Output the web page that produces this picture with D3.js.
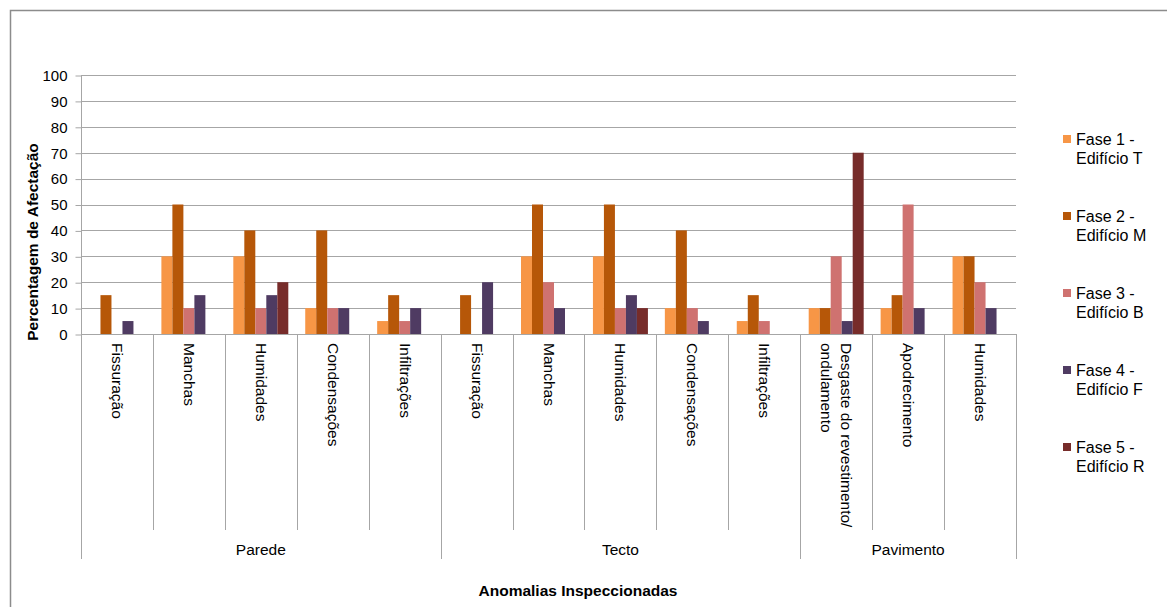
<!DOCTYPE html>
<html>
<head>
<meta charset="utf-8">
<script src="https://cdn.jsdelivr.net/npm/d3@7"></script>
<style>
  html, body { margin: 0; padding: 0; background: #fff; }
  svg { display: block; font-family: "Liberation Sans", Arial, sans-serif; }
</style>
</head>
<body>
<svg id="chart" width="1167" height="607"></svg>
<script>
// Anomalies per element and building phase (% affected)
const groupNames = ["Parede", "Tecto", "Pavimento"];
const groupSizes = [5, 5, 3];
const categoryLabels = [
  "Fissuração", "Manchas", "Humidades", "Condensações", "Infiltrações",
  "Fissuração", "Manchas", "Humidades", "Condensações", "Infiltrações",
  "Desgaste do revestimento/|ondulamento", "Apodrecimento", "Humidades"
];
const seriesNames = [
  "Fase 1 - Edifício T", "Fase 2 - Edifício M", "Fase 3 - Edifício B",
  "Fase 4 - Edifício F", "Fase 5 - Edifício R"
];
const fase1 = [0, 30, 30, 10, 5, 0, 30, 30, 10, 5, 10, 10, 30];
const fase2 = [15, 50, 40, 40, 15, 15, 50, 50, 40, 15, 10, 15, 30];
const fase3 = [0, 10, 10, 10, 5, 0, 20, 10, 10, 5, 30, 50, 20];
const fase4 = [5, 15, 15, 10, 10, 20, 10, 15, 5, 0, 5, 10, 10];
const fase5 = [0, 0, 20, 0, 0, 0, 0, 10, 0, 0, 70, 0, 0];
const yTicks = [0, 10, 20, 30, 40, 50, 60, 70, 80, 90, 100];
const colors = ["#F79646", "#B65708", "#CF7270", "#4F3B62", "#772C2A"];

const seriesValues = [fase1, fase2, fase3, fase4, fase5];

const svg = d3.select("#chart");
const plotLeft = 81, plotRight = 1016, plotTop = 75, plotBottom = 334;
const gridColor = "#A6A6A6";

// outer frame
svg.append("path")
  .attr("d", "M10.5,607 L10.5,10.5 L1167,10.5")
  .attr("fill", "none").attr("stroke", "#8C8C8C").attr("stroke-width", 1.5);

const x0 = d3.scaleBand().domain(d3.range(categoryLabels.length)).range([plotLeft, plotRight]).padding(0);
const x1 = d3.scaleBand().domain(d3.range(seriesNames.length)).range([0, x0.bandwidth()])
  .paddingInner(0).paddingOuter(0.77);
const y = d3.scaleLinear().domain([0, 100]).range([plotBottom, plotTop]);

// gridlines
svg.append("g").selectAll("line").data(yTicks.filter(d => d > 0)).join("line")
  .attr("x1", plotLeft).attr("x2", plotRight)
  .attr("y1", d => Math.round(y(d)) + 0.5).attr("y2", d => Math.round(y(d)) + 0.5)
  .attr("stroke", gridColor).attr("stroke-width", 1);

// y axis
const yAxis = d3.axisLeft(y).tickValues(yTicks).tickSize(6).tickPadding(8);
const gy = svg.append("g").attr("transform", `translate(${plotLeft + 0.5},0.5)`).call(yAxis);
gy.select(".domain").attr("stroke", gridColor).attr("d", `M0,${plotTop}V${plotBottom}`);
gy.selectAll(".tick line").attr("stroke", gridColor);
gy.selectAll(".tick text").attr("font-size", "15px").attr("fill", "#000")
  .attr("font-family", "Liberation Sans, Arial, sans-serif");

// bars
const barG = svg.append("g");
categoryLabels.forEach((c, i) => {
  seriesValues.forEach((vals, s) => {
    const v = vals[i];
    if (!v) return;
    barG.append("rect")
      .attr("x", x0(i) + x1(s))
      .attr("y", y(v))
      .attr("width", x1.bandwidth())
      .attr("height", y(0) - y(v))
      .attr("fill", colors[s]);
  });
});

// category axis
svg.append("line").attr("x1", plotLeft).attr("x2", plotRight)
  .attr("y1", plotBottom + 0.5).attr("y2", plotBottom + 0.5).attr("stroke", gridColor);

const catBounds = d3.range(categoryLabels.length + 1).map(i => i < categoryLabels.length ? x0(i) : plotRight);
const groupStarts = [0];
groupSizes.forEach((n, k) => groupStarts.push(groupStarts[k] + n));

svg.append("g").selectAll("line").data(catBounds).join("line")
  .attr("x1", d => Math.round(d) + 0.5).attr("x2", d => Math.round(d) + 0.5)
  .attr("y1", plotBottom).attr("y2", 530)
  .attr("stroke", gridColor);
svg.append("g").selectAll("line").data(groupStarts.map(i => catBounds[i])).join("line")
  .attr("x1", d => Math.round(d) + 0.5).attr("x2", d => Math.round(d) + 0.5)
  .attr("y1", plotBottom).attr("y2", 559)
  .attr("stroke", gridColor);

// rotated category labels
categoryLabels.forEach((c, i) => {
  const lines = c.split("|");
  const cx = x0(i) + x0.bandwidth() / 2 + 1;
  const t = svg.append("text")
    .attr("transform", `translate(${cx},343) rotate(90)`)
    .attr("font-size", "15.5px").attr("fill", "#000")
    .attr("text-anchor", "start").attr("dominant-baseline", "central");
  const lh = 20;
  lines.forEach((ln, k) => {
    t.append("tspan").attr("x", 0)
      .attr("y", (k - (lines.length - 1) / 2) * lh)
      .text(ln);
  });
});

// group labels
groupNames.forEach((g, k) => {
  const cx = (catBounds[groupStarts[k]] + catBounds[groupStarts[k + 1]]) / 2;
  svg.append("text").attr("x", cx).attr("y", 549)
    .attr("text-anchor", "middle").attr("dominant-baseline", "central")
    .attr("font-size", "15.5px").attr("fill", "#000").text(g);
});

// axis titles
svg.append("text").attr("x", 578).attr("y", 590)
  .attr("text-anchor", "middle").attr("dominant-baseline", "central")
  .attr("font-size", "15.5px").attr("font-weight", "bold").attr("fill", "#000")
  .text("Anomalias Inspeccionadas");
svg.append("text").attr("transform", "translate(32,242) rotate(-90)")
  .attr("text-anchor", "middle").attr("dominant-baseline", "central")
  .attr("font-size", "15.5px").attr("font-weight", "bold").attr("fill", "#000")
  .text("Percentagem de Afectação");

// legend
const lg = svg.append("g");
seriesNames.forEach((name, s) => {
  const yy = 139 + s * 77;
  const [l1, l2] = name.split(" - ");
  lg.append("rect").attr("x", 1063).attr("y", yy - 4).attr("width", 8).attr("height", 8)
    .attr("fill", colors[s]);
  const t = lg.append("text").attr("font-size", "16px").attr("fill", "#000")
    .attr("dominant-baseline", "central");
  t.append("tspan").attr("x", 1076).attr("y", yy).text(l1 + " -");
  t.append("tspan").attr("x", 1076).attr("y", yy + 19).text(l2);
});
</script>
</body>
</html>
